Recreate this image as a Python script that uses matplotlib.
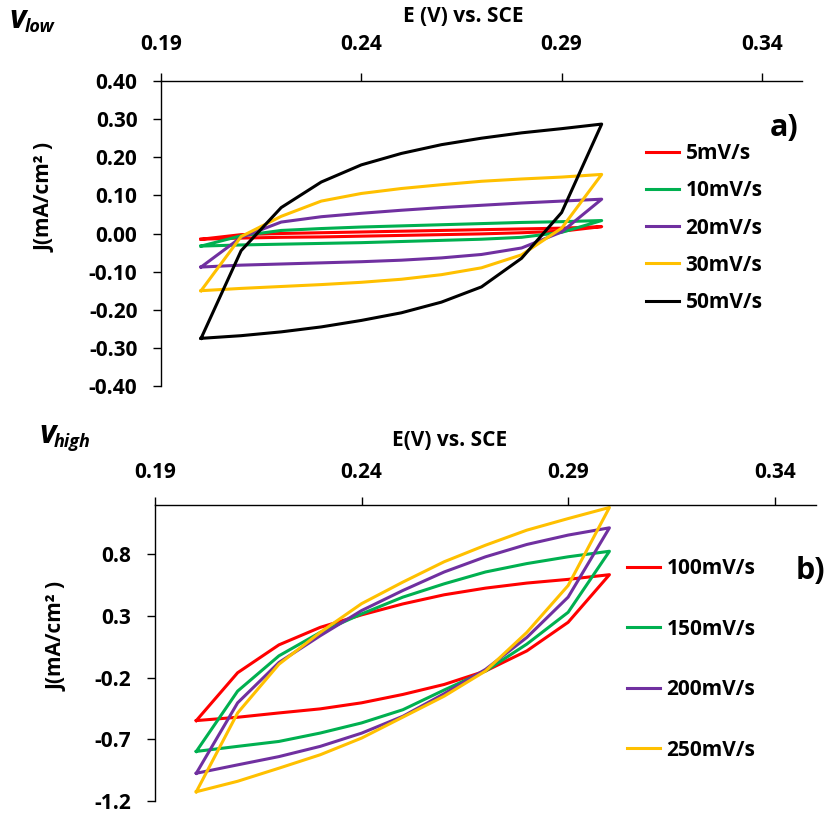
import matplotlib
matplotlib.use("Agg")
import matplotlib.pyplot as plt
from matplotlib.ticker import FormatStrFormatter

plt.rcParams['font.family'] = ['Open Sans', 'DejaVu Sans']
plt.rcParams['font.weight'] = 'bold'
plt.rcParams['axes.unicode_minus'] = False

#---------------data--------------------------------------------------

# potential steps, forward sweep 0.20 -> 0.30, reverse sweep 0.30 -> 0.20
E_fwd = [0.20, 0.21, 0.22, 0.23, 0.24, 0.25, 0.26, 0.27, 0.28, 0.29, 0.30]
E_rev = [0.30, 0.29, 0.28, 0.27, 0.26, 0.25, 0.24, 0.23, 0.22, 0.21, 0.20]

# low scan rates (panel a)
low_labels = ["5mV/s", "10mV/s", "20mV/s", "30mV/s", "50mV/s"]
low_colors = ["#FF0000", "#00B050", "#7030A0", "#FFC000", "#000000"]
j5_fwd = [-0.015, -0.003, 0.000, 0.002, 0.004, 0.006, 0.008, 0.010, 0.012, 0.014, 0.018]
j5_rev = [0.018, 0.006, 0.002, -0.001, -0.003, -0.005, -0.007, -0.009, -0.010, -0.012, -0.015]
j10_fwd = [-0.033, -0.006, 0.008, 0.013, 0.017, 0.020, 0.023, 0.026, 0.029, 0.031, 0.034]
j10_rev = [0.034, 0.003, -0.010, -0.015, -0.018, -0.021, -0.024, -0.026, -0.028, -0.030, -0.033]
j20_fwd = [-0.088, -0.010, 0.030, 0.044, 0.053, 0.061, 0.068, 0.074, 0.080, 0.085, 0.090]
j20_rev = [0.090, 0.004, -0.038, -0.055, -0.064, -0.070, -0.074, -0.077, -0.080, -0.083, -0.088]
j30_fwd = [-0.150, -0.008, 0.045, 0.085, 0.105, 0.118, 0.128, 0.137, 0.143, 0.148, 0.155]
j30_rev = [0.155, 0.014, -0.056, -0.090, -0.108, -0.120, -0.128, -0.134, -0.139, -0.144, -0.150]
j50_fwd = [-0.275, -0.045, 0.068, 0.135, 0.180, 0.210, 0.233, 0.250, 0.264, 0.275, 0.287]
j50_rev = [0.287, 0.055, -0.065, -0.140, -0.180, -0.208, -0.228, -0.245, -0.258, -0.268, -0.275]
low_fwd = [j5_fwd, j10_fwd, j20_fwd, j30_fwd, j50_fwd]
low_rev = [j5_rev, j10_rev, j20_rev, j30_rev, j50_rev]

# high scan rates (panel b)
high_labels = ["100mV/s", "150mV/s", "200mV/s", "250mV/s"]
high_colors = ["#FF0000", "#00B050", "#7030A0", "#FFC000"]
j100_fwd = [-0.548, -0.160, 0.066, 0.208, 0.309, 0.398, 0.472, 0.526, 0.567, 0.597, 0.635]
j100_rev = [0.635, 0.249, 0.017, -0.146, -0.255, -0.336, -0.404, -0.453, -0.486, -0.521, -0.548]
j150_fwd = [-0.798, -0.309, -0.023, 0.167, 0.317, 0.453, 0.561, 0.657, 0.725, 0.780, 0.825]
j150_rev = [0.825, 0.330, 0.072, -0.146, -0.300, -0.460, -0.567, -0.649, -0.717, -0.757, -0.798]
j200_fwd = [-0.975, -0.404, -0.077, 0.140, 0.344, 0.507, 0.657, 0.780, 0.880, 0.956, 1.015]
j200_rev = [1.015, 0.453, 0.126, -0.133, -0.330, -0.513, -0.650, -0.757, -0.840, -0.907, -0.975]
j250_fwd = [-1.125, -0.486, -0.091, 0.167, 0.400, 0.575, 0.740, 0.874, 0.996, 1.090, 1.180]
j250_rev = [1.180, 0.547, 0.167, -0.146, -0.350, -0.520, -0.690, -0.825, -0.934, -1.040, -1.125]
high_fwd = [j100_fwd, j150_fwd, j200_fwd, j250_fwd]
high_rev = [j100_rev, j150_rev, j200_rev, j250_rev]

x_ticks = [0.19, 0.24, 0.29, 0.34]
low_yticks = [-0.40, -0.30, -0.20, -0.10, 0.00, 0.10, 0.20, 0.30, 0.40]
high_yticks = [-1.2, -0.7, -0.2, 0.3, 0.8]

#---------------figure------------------------------------------------

W, H = 824, 814
fig = plt.figure(figsize=(W / 100, H / 100), dpi=100)

def px_axes(l, t, r, b):
    return fig.add_axes([l / W, 1 - b / H, (r - l) / W, (b - t) / H])

ax1 = px_axes(161, 81, 802, 386)
ax2 = px_axes(155, 505, 816, 801)

fs = 15

def style(ax, yticks, yfmt, ylim, xpad, ypad):
    ax.set_xlim(0.19, 0.35)
    ax.set_ylim(*ylim)
    ax.xaxis.tick_top()
    ax.spines['right'].set_visible(False)
    ax.spines['bottom'].set_visible(False)
    for s in ['left', 'top']:
        ax.spines[s].set_linewidth(1.0)
    ax.set_xticks(x_ticks)
    ax.set_yticks(yticks)
    ax.xaxis.set_major_formatter(FormatStrFormatter('%.2f'))
    ax.yaxis.set_major_formatter(FormatStrFormatter(yfmt))
    ax.tick_params(axis='x', direction='out', length=6, width=1, pad=xpad, labelsize=fs)
    ax.tick_params(axis='y', direction='out', length=6, width=1, pad=ypad, labelsize=fs)
    for lab in ax.get_xticklabels() + ax.get_yticklabels():
        lab.set_fontweight('bold')

# panel a
for lab, col, jf, jr in zip(low_labels, low_colors, low_fwd, low_rev):
    ax1.plot(E_fwd + E_rev, jf + jr, color=col, lw=2.2, label=lab)
style(ax1, low_yticks, '%.2f', (-0.40, 0.40), 13, 11)
ax1.legend(loc='upper left', bbox_to_anchor=(646 / W, 1 - 143 / H),
           bbox_transform=fig.transFigure, frameon=False, fontsize=fs,
           handlelength=1.6, handletextpad=0.3, labelspacing=0.78,
           borderpad=0, borderaxespad=0)

# panel b
for lab, col, jf, jr in zip(high_labels, high_colors, high_fwd, high_rev):
    ax2.plot(E_fwd + E_rev, jf + jr, color=col, lw=2.2, label=lab)
style(ax2, high_yticks, '%.1f', (-1.2, 1.2), 10, 11)
ax2.legend(loc='upper left', bbox_to_anchor=(627 / W, 1 - 558 / H),
           bbox_transform=fig.transFigure, frameon=False, fontsize=fs,
           handlelength=1.6, handletextpad=0.3, labelspacing=1.9,
           borderpad=0, borderaxespad=0)

#---------------texts-------------------------------------------------

fig.text(463 / W, 1 - 17 / H, "E (V) vs. SCE", ha='center', va='center', fontsize=fs, fontweight='bold')
fig.text(450 / W, 1 - 440 / H, "E(V) vs. SCE", ha='center', va='center', fontsize=fs, fontweight='bold')
fig.text(45 / W, 1 - 197 / H, "J(mA/cm² )", rotation=90, ha='center', va='center', fontsize=fs, fontweight='bold')
fig.text(57 / W, 1 - 636 / H, "J(mA/cm² )", rotation=90, ha='center', va='center', fontsize=fs, fontweight='bold')

fig.text(784 / W, 1 - 128 / H, "a)", ha='center', va='center', fontsize=22, fontweight='bold')
fig.text(810 / W, 1 - 571 / H, "b)", ha='center', va='center', fontsize=22, fontweight='bold')

fig.text(9 / W, 1 - 28 / H, "v", ha='left', va='baseline', fontsize=23, fontweight='bold', fontstyle='italic')
fig.text(25 / W, 1 - 32 / H, "low", ha='left', va='baseline', fontsize=13, fontweight='bold', fontstyle='italic')
fig.text(39 / W, 1 - 443 / H, "v", ha='left', va='baseline', fontsize=23, fontweight='bold', fontstyle='italic')
fig.text(54 / W, 1 - 447 / H, "high", ha='left', va='baseline', fontsize=13, fontweight='bold', fontstyle='italic')

fig.savefig("out.png", dpi=100)
